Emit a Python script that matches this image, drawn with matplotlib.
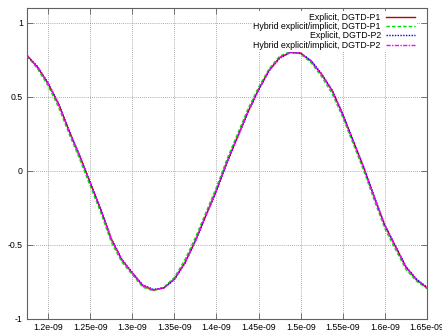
import matplotlib
matplotlib.use("Agg")
import matplotlib.pyplot as plt
import numpy as np

plt.rcParams['font.family'] = ['Liberation Sans', 'DejaVu Sans']

# time samples (ns)
t_ns = [1.175, 1.1875, 1.200, 1.2125, 1.225, 1.2375, 1.250, 1.2625, 1.275, 1.2875,
        1.300, 1.3125, 1.325, 1.3375, 1.350, 1.3625, 1.375, 1.3875, 1.400, 1.4125,
        1.425, 1.4375, 1.450, 1.4625, 1.475, 1.4875, 1.500, 1.5125, 1.525, 1.5375,
        1.550, 1.5625, 1.575, 1.5875, 1.600, 1.6125, 1.625, 1.6375, 1.650]

explicit_p1 = [0.78, 0.70, 0.59, 0.45, 0.27, 0.10, -0.08, -0.26, -0.46, -0.60,
               -0.69, -0.775, -0.805, -0.79, -0.73, -0.62, -0.47, -0.30, -0.13, 0.06,
               0.23, 0.40, 0.55, 0.68, 0.765, 0.80, 0.795, 0.74, 0.65, 0.54,
               0.38, 0.20, 0.02, -0.18, -0.37, -0.51, -0.65, -0.735, -0.79]
hybrid_p1 = [0.775, 0.69, 0.575, 0.43, 0.25, 0.08, -0.10, -0.28, -0.48, -0.615,
             -0.70, -0.785, -0.81, -0.785, -0.72, -0.60, -0.45, -0.28, -0.11, 0.08,
             0.25, 0.42, 0.565, 0.69, 0.775, 0.805, 0.79, 0.73, 0.635, 0.52,
             0.36, 0.18, 0.0, -0.20, -0.39, -0.53, -0.665, -0.745, -0.795]
explicit_p2 = [0.78, 0.705, 0.595, 0.455, 0.275, 0.105, -0.075, -0.255, -0.455, -0.595,
               -0.685, -0.77, -0.80, -0.79, -0.735, -0.625, -0.475, -0.305, -0.135, 0.055,
               0.225, 0.395, 0.545, 0.675, 0.76, 0.80, 0.795, 0.745, 0.655, 0.545,
               0.385, 0.205, 0.025, -0.175, -0.365, -0.505, -0.645, -0.73, -0.785]
hybrid_p2 = [0.78, 0.70, 0.59, 0.45, 0.27, 0.10, -0.08, -0.26, -0.46, -0.60,
             -0.69, -0.775, -0.805, -0.79, -0.73, -0.62, -0.47, -0.30, -0.13, 0.06,
             0.23, 0.40, 0.55, 0.68, 0.765, 0.80, 0.795, 0.74, 0.65, 0.54,
             0.38, 0.20, 0.02, -0.18, -0.37, -0.51, -0.65, -0.735, -0.79]

labels = ["Explicit, DGTD-P1", "Hybrid explicit/implicit, DGTD-P1",
          "Explicit, DGTD-P2", "Hybrid explicit/implicit, DGTD-P2"]

xticks_ns = [1.2, 1.25, 1.3, 1.35, 1.4, 1.45, 1.5, 1.55, 1.6, 1.65]
xtick_labels = ["1.2e-09", "1.25e-09", "1.3e-09", "1.35e-09", "1.4e-09",
                "1.45e-09", "1.5e-09", "1.55e-09", "1.6e-09", "1.65e-09"]
yticks = [-1, -0.5, 0, 0.5, 1]
ytick_labels = ["-1", "-0.5", "0", "0.5", "1"]

t = np.array(t_ns) * 1e-9

fig = plt.figure(figsize=(4.42, 3.33), dpi=100)
ax = fig.add_axes([27 / 442, 1 - 319 / 333, 400 / 442, 311 / 333])

ax.plot(t, explicit_p1, color='#c00000', lw=1.0, label=labels[0])
ax.plot(t, hybrid_p1, color='#00e000', lw=1.0, ls=(0, (2.5, 1.5)), label=labels[1])
ax.plot(t, explicit_p2, color='#0000ff', lw=1.0, ls=(0, (1, 1)), label=labels[2])
ax.plot(t, hybrid_p2, color='#ff00ff', lw=1.0, ls=(0, (3, 1, 1, 1)), label=labels[3])

ax.set_xlim(1.175e-9, 1.65e-9)
ax.set_ylim(-1, 1.1)
ax.set_xticks(np.array(xticks_ns) * 1e-9)
ax.set_xticklabels(xtick_labels)
ax.set_yticks(yticks)
ax.set_yticklabels(ytick_labels)
ax.tick_params(direction='in', top=True, right=True, length=4, width=0.6,
               color='#606060', labelsize=6.3, pad=3)

ax.grid(True, color='#909090', lw=0.6, ls=(0, (1, 1.5)))
for s in ax.spines.values():
    s.set_color('#606060')
    s.set_linewidth(0.8)

leg = ax.legend(loc='upper right', bbox_to_anchor=(0.985, 1.005), markerfirst=False,
                fontsize=6.3, frameon=True, framealpha=1, edgecolor='none',
                facecolor='white', fancybox=False, handlelength=3.3,
                handletextpad=0.6, labelspacing=0.05, borderpad=0.2)
for txt in leg.get_texts():
    txt.set_ha('right')
leg._legend_box.align = 'right'

fig.savefig("out.png", dpi=100)
